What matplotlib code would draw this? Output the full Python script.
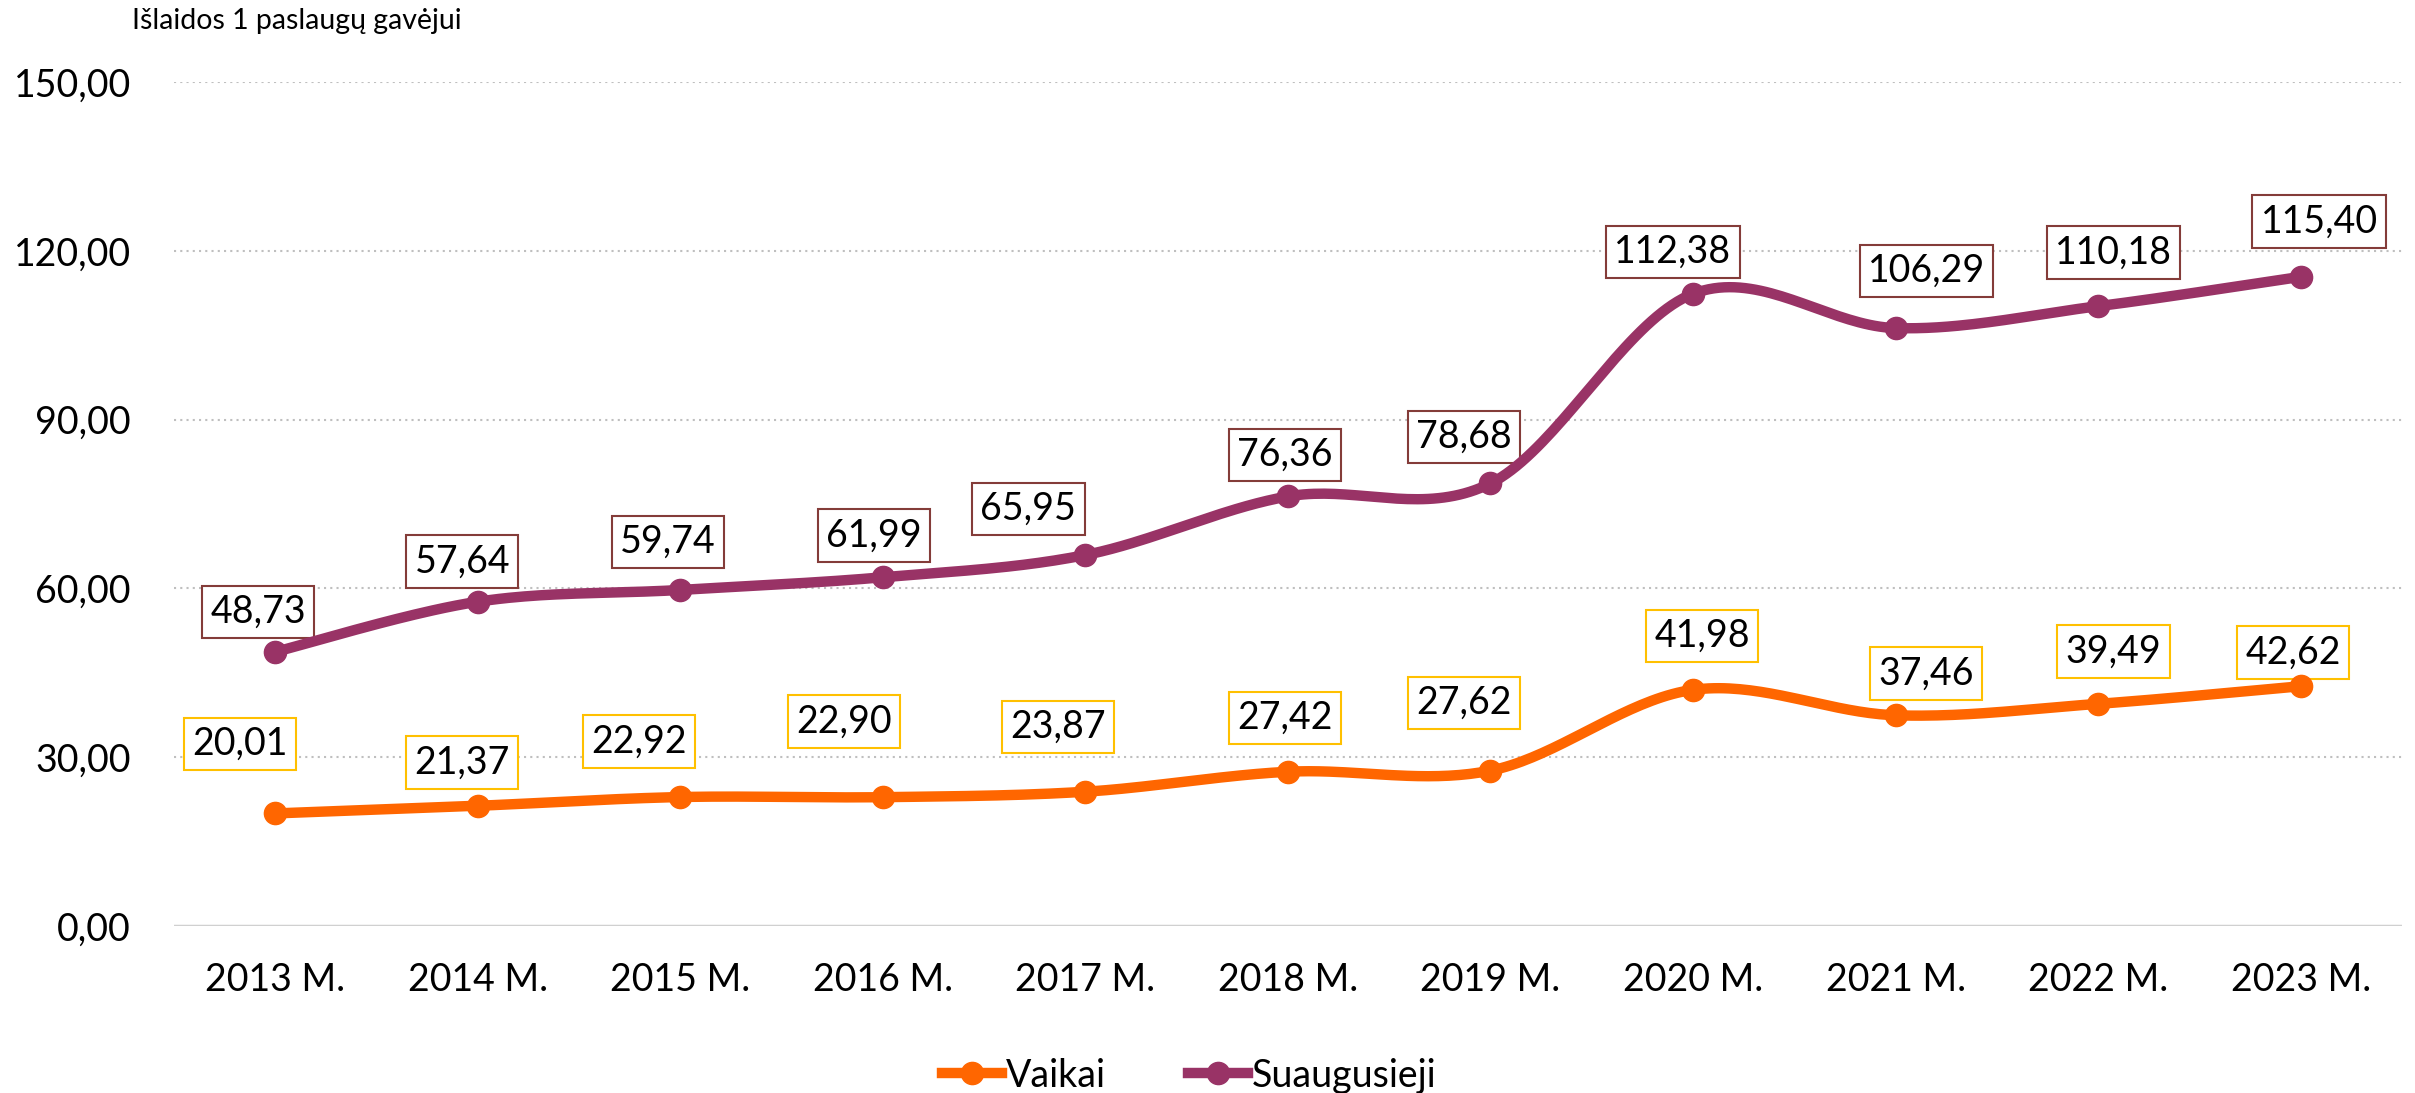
import matplotlib
matplotlib.use("Agg")
import matplotlib.pyplot as plt
import numpy as np

plt.rcParams['font.family'] = ['Lato', 'DejaVu Sans']

years = ['2013 M.', '2014 M.', '2015 M.', '2016 M.', '2017 M.', '2018 M.',
         '2019 M.', '2020 M.', '2021 M.', '2022 M.', '2023 M.']
vaikai = [20.01, 21.37, 22.92, 22.90, 23.87, 27.42, 27.62, 41.98, 37.46, 39.49, 42.62]
suaugusieji = [48.73, 57.64, 59.74, 61.99, 65.95, 76.36, 78.68, 112.38, 106.29, 110.18, 115.40]

# label box offsets (points) -- where excel placed the labels
off_v = [(-23, 45), (-10, 28), (-27, 36), (-25, 49), (-18, 42), (-2, 35),
         (-17, 44), (6, 35), (20, 27), (10, 34), (-5, 22)]
off_s = [(-11, 26), (-10, 26), (-8, 31), (-6, 27), (-37, 30), (-2, 27),
         (-17, 30), (-13, 27), (20, 37), (10, 35), (12, 36)]


def smooth(x, y, n=40):
    """Excel-like smoothed line (Catmull-Rom as cubic bezier)."""
    p = np.column_stack([x, y]).astype(float)
    out = []
    for i in range(len(p) - 1):
        p0 = p[i - 1] if i > 0 else p[i]
        p1, p2 = p[i], p[i + 1]
        p3 = p[i + 2] if i + 2 < len(p) else p[i + 1]
        c1 = p1 + (p2 - p0) / 6
        c2 = p2 - (p3 - p1) / 6
        t = np.linspace(0, 1, n)[:, None]
        seg = ((1 - t) ** 3) * p1 + 3 * ((1 - t) ** 2) * t * c1 + 3 * (1 - t) * t ** 2 * c2 + t ** 3 * p2
        out.append(seg if i == 0 else seg[1:])
    out = np.vstack(out)
    return out[:, 0], out[:, 1]


fig = plt.figure(figsize=(24.15, 10.93), dpi=100)
ax = fig.add_axes([0.072, 0.1528, 0.9226, 0.772])

x = np.arange(len(years))
series = [
    ('Vaikai', vaikai, '#FF6600', '#FFC000', off_v),
    ('Suaugusieji', suaugusieji, '#993366', '#843C39', off_s),
]
for name, vals, col, edge, offs in series:
    sx, sy = smooth(x, vals)
    ax.plot(sx, sy, color=col, lw=7.5, solid_capstyle='round', zorder=4)
    ax.plot(x, vals, 'o', color=col, ms=16, zorder=5)
    # proxy for legend
    ax.plot([], [], '-o', color=col, lw=7.5, ms=16, label=name)
    for xi, v, (dx, dy) in zip(x, vals, offs):
        ax.annotate(f'{v:.2f}'.replace('.', ','), (xi, v),
                    xytext=(dx * 1.109, dy * 1.109), textcoords='offset points',
                    ha='center', va='center', fontsize=27, color='black',
                    bbox=dict(boxstyle='square,pad=0.22', fc='white', ec=edge, lw=1.5),
                    zorder=3)

ax.set_xlim(-0.5, len(years) - 0.5)
ax.set_ylim(0, 150)
ax.set_yticks(np.arange(0, 151, 30))
ax.set_yticklabels([f'{t:.2f}'.replace('.', ',') for t in np.arange(0, 151, 30)])
ax.set_xticks(x)
ax.set_xticklabels(years)
ax.tick_params(axis='both', length=0, labelsize=27)
ax.tick_params(axis='x', pad=26)
ax.tick_params(axis='y', pad=31)

for t in np.arange(30, 151, 30):
    ax.axhline(t, color='#BFBFBF', lw=1.5, ls=(0, (1, 2)), zorder=1)
ax.axhline(0, color='#D0D0D0', lw=2.5, zorder=1)
for s in ax.spines.values():
    s.set_visible(False)

fig.text(0.0547, 0.993, 'Išlaidos 1 paslaugų gavėjui', fontsize=20.5, ha='left', va='top')

fig.legend(loc='center left', bbox_to_anchor=(0.376, 0.016), ncol=2, frameon=False,
           fontsize=27, handlelength=1.6, handletextpad=0.1, columnspacing=2.2)

fig.savefig('out.png', dpi=100)
